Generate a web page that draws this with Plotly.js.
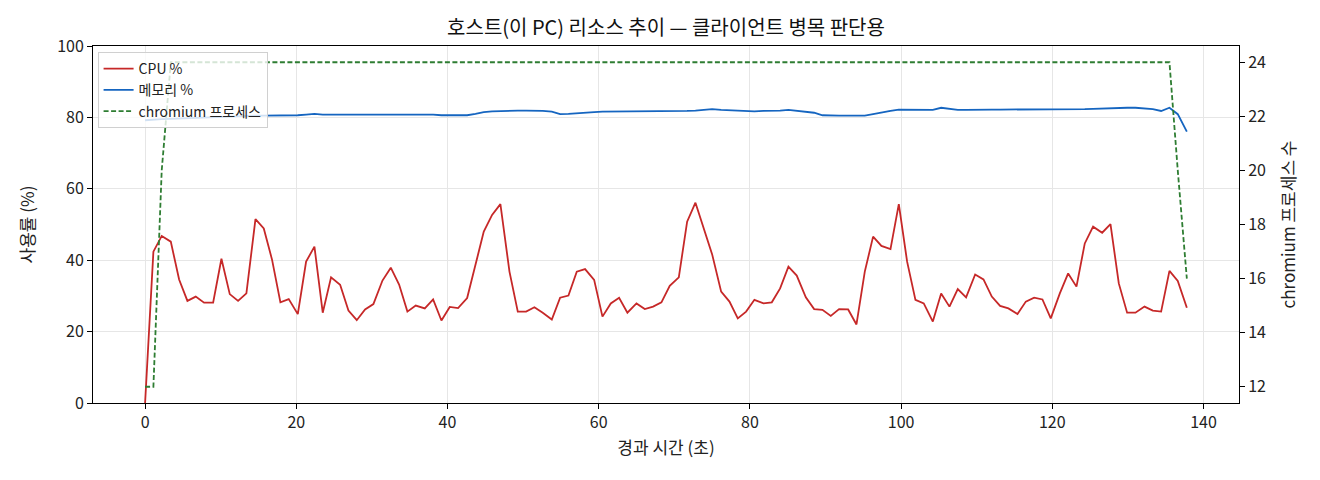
<!DOCTYPE html>
<html>
<head>
<meta charset="utf-8">
<script src="https://cdn.plot.ly/plotly-3.0.1.min.js"></script>
<style>
  body { margin: 0; background: #fff; }
  #chart { width: 1320px; height: 480px; }
</style>
</head>
<body>
<div id="chart"></div>
<script>
// elapsed seconds of each sample
var elapsed = [0.0, 1.1, 2.2, 3.4, 4.5, 5.6, 6.7, 7.8, 9.0, 10.1,
  11.2, 12.3, 13.4, 14.6, 15.7, 16.8, 17.9, 19.0, 20.2, 21.3,
  22.4, 23.5, 24.6, 25.8, 26.9, 28.0, 29.1, 30.2, 31.4, 32.5,
  33.6, 34.7, 35.8, 37.0, 38.1, 39.2, 40.3, 41.4, 42.6, 43.7,
  44.8, 45.9, 47.0, 48.2, 49.3, 50.4, 51.5, 52.6, 53.8, 54.9,
  56.0, 57.1, 58.2, 59.4, 60.5, 61.6, 62.7, 63.8, 65.0, 66.1,
  67.2, 68.3, 69.4, 70.6, 71.7, 72.8, 73.9, 75.0, 76.2, 77.3,
  78.4, 79.5, 80.6, 81.8, 82.9, 84.0, 85.1, 86.2, 87.4, 88.5,
  89.6, 90.7, 91.8, 93.0, 94.1, 95.2, 96.3, 97.4, 98.6, 99.7,
  100.8, 101.9, 103.0, 104.2, 105.3, 106.4, 107.5, 108.6, 109.8, 110.9,
  112.0, 113.1, 114.2, 115.4, 116.5, 117.6, 118.7, 119.8, 121.0, 122.1,
  123.2, 124.3, 125.4, 126.6, 127.7, 128.8, 129.9, 131.0, 132.2, 133.3,
  134.4, 135.5, 136.6, 137.8]

var cpu = [0.0, 42.4, 46.8, 45.2, 34.6, 28.6, 29.8, 28.1, 28.1, 40.4,
  30.5, 28.6, 30.7, 51.5, 48.9, 40.1, 28.2, 29.1, 24.9, 39.6,
  43.8, 25.3, 35.2, 33.1, 25.9, 23.2, 26.2, 27.7, 34.3, 37.9,
  33.2, 25.6, 27.3, 26.5, 29.0, 23.1, 26.9, 26.6, 29.4, 38.7,
  48.0, 52.7, 55.7, 36.8, 25.6, 25.6, 26.8, 25.3, 23.4, 29.5,
  30.1, 36.8, 37.5, 34.5, 24.2, 27.9, 29.5, 25.3, 27.9, 26.3,
  27.0, 28.2, 32.8, 35.2, 50.8, 56.1, 49.0, 41.7, 31.2, 28.4,
  23.7, 25.6, 28.9, 27.9, 28.2, 32.1, 38.2, 35.7, 29.6, 26.3,
  26.1, 24.4, 26.3, 26.2, 22.0, 36.8, 46.6, 44.0, 43.1, 55.7,
  39.6, 28.9, 27.9, 22.8, 30.7, 27.0, 31.9, 29.6, 36.0, 34.6,
  29.8, 27.2, 26.5, 24.9, 28.4, 29.5, 29.0, 23.7, 30.7, 36.3,
  32.6, 44.7, 49.4, 47.7, 50.1, 33.5, 25.3, 25.3, 27.0, 25.9,
  25.6, 37.0, 34.2, 26.7]

var memory = [79.2, 79.4, 79.5, 79.6, 79.7, 79.8, 79.8, 79.9, 80.0, 80.1,
  80.2, 80.3, 80.4, 80.5, 80.5, 80.5, 80.5, 80.5, 80.6, 80.8,
  81.0, 80.8, 80.8, 80.9, 80.9, 80.9, 80.8, 80.8, 80.9, 81.0,
  81.0, 81.0, 81.0, 81.0, 80.8, 80.6, 80.6, 80.6, 80.6, 81.0,
  81.5, 81.7, 81.8, 81.8, 81.9, 81.9, 81.9, 81.8, 81.6, 80.9,
  81.0, 81.2, 81.4, 81.5, 81.6, 81.6, 81.6, 81.6, 81.6, 81.6,
  81.6, 81.6, 81.6, 81.6, 81.8, 81.9, 82.0, 82.3, 82.1, 82.0,
  81.9, 81.7, 81.7, 81.8, 81.8, 81.9, 82.1, 81.8, 81.4, 81.3,
  80.6, 80.5, 80.5, 80.5, 80.5, 80.5, 80.9, 81.4, 81.8, 82.2,
  82.2, 82.1, 82.1, 82.1, 82.7, 82.3, 82.1, 82.1, 82.2, 82.2,
  82.2, 82.2, 82.2, 82.2, 82.2, 82.2, 82.2, 82.2, 82.2, 82.2,
  82.1, 82.3, 82.4, 82.5, 82.7, 82.7, 82.7, 82.7, 82.5, 82.3,
  81.8, 82.7, 80.9, 76.0]

var procs = [12, 12, 20, 24, 24, 24, 24, 24, 24, 24,
  24, 24, 24, 24, 24, 24, 24, 24, 24, 24,
  24, 24, 24, 24, 24, 24, 24, 24, 24, 24,
  24, 24, 24, 24, 24, 24, 24, 24, 24, 24,
  24, 24, 24, 24, 24, 24, 24, 24, 24, 24,
  24, 24, 24, 24, 24, 24, 24, 24, 24, 24,
  24, 24, 24, 24, 24, 24, 24, 24, 24, 24,
  24, 24, 24, 24, 24, 24, 24, 24, 24, 24,
  24, 24, 24, 24, 24, 24, 24, 24, 24, 24,
  24, 24, 24, 24, 24, 24, 24, 24, 24, 24,
  24, 24, 24, 24, 24, 24, 24, 24, 24, 24,
  24, 24, 24, 24, 24, 24, 24, 24, 24, 24,
  24, 24, 20, 16]

var font = "'Noto Sans CJK KR', 'Noto Sans', sans-serif"

var traces = [
  {
    x: elapsed, y: cpu, name: "CPU %", mode: "lines", legendgroup: "cpu",
    line: { color: "#c62828", width: 1.8 }
  },
  {
    x: elapsed, y: memory, name: "메모리 %", mode: "lines", legendgroup: "mem",
    line: { color: "#1565c0", width: 1.8 }
  },
  {
    x: elapsed, y: procs, name: "chromium 프로세스", mode: "lines", yaxis: "y2", legendgroup: "proc",
    line: { color: "#2e7d32", width: 1.8, dash: "5px,2.5px" }
  }
]

var axisCommon = {
  showline: true, linecolor: "#000", linewidth: 1,
  ticks: "outside", ticklen: 5, tickcolor: "#000",
  tickfont: { family: font, size: 16, color: "#222" },
  zeroline: false
}

var labelFont = { family: font, size: 17, color: "#222" }

var layout = {
  width: 1320, height: 480,
  margin: { l: 93, r: 81, t: 46, b: 77 },
  paper_bgcolor: "#fff", plot_bgcolor: "#fff",
  font: { family: font, color: "#222" },
  title: {
    text: "호스트(이 PC) 리소스 추이 — 클라이언트 병목 판단용",
    font: { family: font, size: 20, color: "#111" },
    x: 0.5, xref: "paper", y: 0.942, yanchor: "middle"
  },
  xaxis: Object.assign({}, axisCommon, {
    range: [-6.89, 144.7], dtick: 20, mirror: true,
    showgrid: true, gridcolor: "#e6e6e6",
    title: { text: "경과 시간 (초)", font: labelFont, standoff: 9 }
  }),
  yaxis: Object.assign({}, axisCommon, {
    range: [0, 100], dtick: 20, mirror: true,
    showgrid: true, gridcolor: "#e6e6e6",
    title: { text: "사용률 (%)", font: labelFont, standoff: 18 }
  }),
  yaxis2: Object.assign({}, axisCommon, {
    range: [11.4, 24.6], dtick: 2, overlaying: "y", side: "right",
    showgrid: false,
    title: { text: "chromium 프로세스 수", font: labelFont, standoff: 18 }
  }),
  showlegend: true,
  legend: {
    x: 0.004, y: 0.983, xanchor: "left", yanchor: "top",
    bgcolor: "rgba(255,255,255,0.8)", bordercolor: "#d0d0d0", borderwidth: 1,
    font: { family: font, size: 14, color: "#222" },
    tracegroupgap: 3, traceorder: "normal"
  }
}

Plotly.newPlot("chart", traces, layout, { displayModeBar: false, staticPlot: true })
</script>
</body>
</html>
